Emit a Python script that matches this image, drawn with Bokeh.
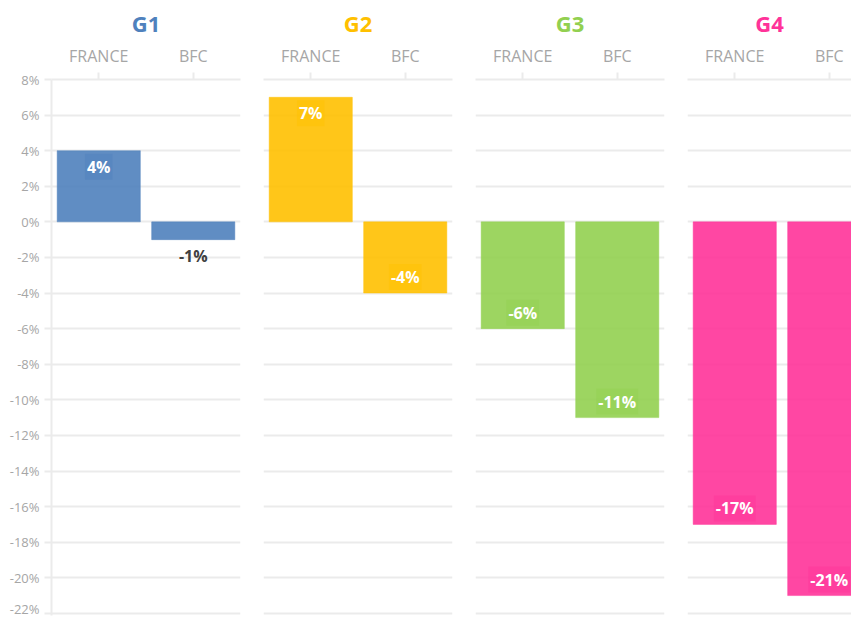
from bokeh.plotting import figure
from bokeh.layouts import row
from bokeh.models import Range1d, FixedTicker, Grid, ColumnDataSource
from bokeh.core.properties import value
from bokeh.embed import file_html
from bokeh.resources import INLINE

# ---- data -------------------------------------------------------------
groups = ["G1", "G2", "G3", "G4"]
categories = ["FRANCE", "BFC"]
france = [4, 7, -6, -17]
bfc = [-1, -4, -11, -21]
group_colors = ["#4F81BD", "#FFC000", "#92D050", "#FF3399"]
y_ticks = [8, 6, 4, 2, 0, -2, -4, -6, -8, -10, -12, -14, -16, -18, -20, -22]
y_tick_labels = ["8%", "6%", "4%", "2%", "0%", "-2%", "-4%", "-6%", "-8%",
                 "-10%", "-12%", "-14%", "-16%", "-18%", "-20%", "-22%"]

# ---- style ------------------------------------------------------------
FONT = "Open Sans"
GRID_COLOR = "#ebebeb"
AXIS_GREY = "#a6a6a6"
FRAME_W = 189
FIG_H = 617
Y_START, Y_END = -22.12, 8

n_cat = len(categories)
x_pos = [i + 0.5 for i in range(n_cat)]

figs = []
for gi, g in enumerate(groups):
    first = gi == 0
    last = gi == len(groups) - 1
    if first:
        width, bl, br, fw = 251, 51, 11, FRAME_W
    elif last:
        width, bl, br, fw = 176, 12, 0, 164
    else:
        width, bl, br, fw = 212, 12, 11, FRAME_W
    x_end = n_cat * fw / FRAME_W

    p = figure(width=width, height=FIG_H, output_backend="svg", toolbar_location=None,
               x_range=Range1d(0, x_end), y_range=Range1d(Y_START, Y_END),
               x_axis_location="above",
               y_axis_location="left" if first else None,
               min_border_left=bl, min_border_right=br,
               min_border_top=79, min_border_bottom=2,
               outline_line_color=None, background_fill_color="white",
               border_fill_color="white")

    # title
    p.title.text = g
    p.title.align = "center"
    p.title.text_font = FONT
    p.title.text_font_size = "22px"
    p.title.text_font_style = "bold"
    p.title.text_color = group_colors[gi]
    p.title.standoff = 7
    if last:
        p.title.offset = (FRAME_W - fw) / 2

    # top category axis
    xa = p.xaxis[0]
    xa.ticker = FixedTicker(ticks=x_pos)
    xa.major_label_overrides = {x: c for x, c in zip(x_pos, categories)}
    xa.axis_line_color = GRID_COLOR
    xa.axis_line_width = 2
    xa.major_tick_line_color = GRID_COLOR
    xa.major_tick_line_width = 2
    xa.major_tick_in = 0
    xa.major_tick_out = 7
    xa.minor_tick_line_color = None
    xa.major_label_text_font = FONT
    xa.major_label_text_font_size = "16px"
    xa.major_label_text_color = AXIS_GREY
    xa.major_label_standoff = 6
    p.xgrid.visible = False

    # y axis / grid
    if first:
        ya = p.yaxis[0]
        ya.ticker = FixedTicker(ticks=y_ticks)
        ya.major_label_overrides = {t: l for t, l in zip(y_ticks, y_tick_labels)}
        ya.axis_line_color = GRID_COLOR
        ya.axis_line_width = 2
        ya.major_tick_line_color = GRID_COLOR
        ya.major_tick_line_width = 2
        ya.major_tick_in = 0
        ya.major_tick_out = 7
        ya.minor_tick_line_color = None
        ya.major_label_text_font = FONT
        ya.major_label_text_font_size = "13px"
        ya.major_label_text_color = AXIS_GREY
        ya.major_label_standoff = 5
        p.ygrid.ticker = FixedTicker(ticks=y_ticks)
        p.ygrid.grid_line_color = GRID_COLOR
        p.ygrid.grid_line_width = 2
    else:
        p.ygrid.visible = False
        p.add_layout(Grid(dimension=1, ticker=FixedTicker(ticks=y_ticks),
                          grid_line_color=GRID_COLOR, grid_line_width=2))

    # bars
    vals = [france[gi], bfc[gi]]
    src = ColumnDataSource(dict(x=x_pos, top=vals))
    p.vbar(x="x", top="top", bottom=0, width=0.88, source=src,
           fill_color=group_colors[gi], fill_alpha=0.9,
           line_color=group_colors[gi], line_alpha=0.45, line_width=1)

    # value labels: inside near the bar end if tall enough, else outside
    lx, ly, lt, lc, lo, lbg, lba = [], [], [], [], [], [], []
    for x, v in zip(x_pos, vals):
        inside = abs(v) >= 2
        lx.append(x)
        ly.append(v)
        lt.append(f"{v}%")
        if v >= 0:
            lo.append(16 if inside else -16)
        else:
            lo.append(-16 if inside else 16)
        lc.append("white" if inside else "#404040")
        lbg.append(group_colors[gi] if inside else "white")
        lba.append(0.45 if inside else 0.0)
    lsrc = ColumnDataSource(dict(x=lx, y=ly, t=lt, c=lc, o=lo, bg=lbg, ba=lba))
    p.text(x="x", y="y", text="t", source=lsrc, y_offset="o",
           text_color="c", text_font=value(FONT), text_font_size="16px",
           text_font_style="bold", text_align="center", text_baseline="middle",
           background_fill_color="bg", background_fill_alpha="ba", padding=2)

    figs.append(p)

layout = row(*figs, spacing=0)
open("out.html", "w").write(file_html(layout, INLINE))
